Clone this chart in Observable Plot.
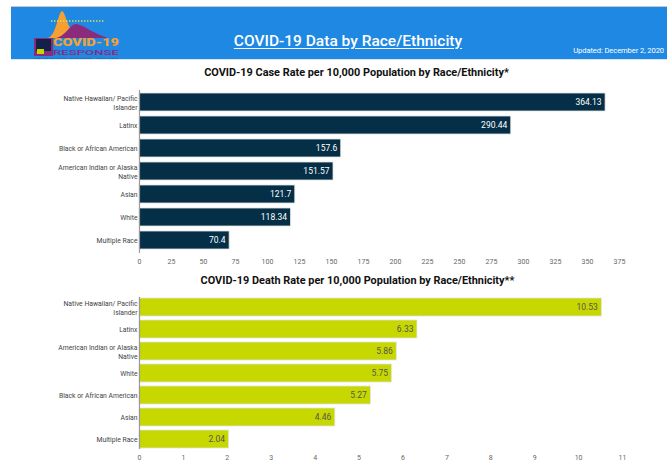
<!DOCTYPE html>
<html>
<head>
<meta charset="utf-8">
<script src="https://cdn.jsdelivr.net/npm/d3@7"></script>
<script src="https://cdn.jsdelivr.net/npm/@observablehq/plot@0.6"></script>
<style>
  html, body { margin: 0; padding: 0; background: #fff; }
  body { width: 667px; height: 462px; position: relative; overflow: hidden; font-family: Roboto, "Noto Sans", sans-serif; }
  #header { position: absolute; left: 11px; top: 6px; width: 656px; height: 54px; background: #1f88e3; border-top: 1px solid #c8c8c8; border-bottom: 1px solid #d9e6f2; box-sizing: border-box; }
  #htitle { position: absolute; left: 0; width: 100%; top: 25px; text-align: center; color: #fff; font-size: 15.5px; font-weight: 500; text-decoration: underline; text-underline-offset: 2px; }
  #htitle span { position: relative; left: 9px; }
  #updated { position: absolute; right: 3px; top: 39px; color: #fff; font-size: 7.6px; letter-spacing: -0.1px; }
  #logo { position: absolute; left: 23px; top: 1px; }
  .ctitle { position: absolute; left: 0; width: 667px; text-align: center; font-weight: 700; font-size: 10.9px; color: #111; }
  .ctitle span { position: relative; }
  .chart { position: absolute; left: 0; }
</style>
</head>
<body>
<div id="header">
  <svg id="logo" width="90" height="52" viewBox="0 0 90 52">
    <path d="M13,30 C22,30 24,4 28,3 C32,4 33,24 46,30 Z" fill="#f6a033"/>
    <path d="M22,30 C32,28 36,16 42,16 C50,17 60,26 74,30 Z" fill="#8a2b7c"/>
    <line x1="17" y1="13" x2="70" y2="13" stroke="#dfe34a" stroke-width="1.4" stroke-dasharray="1.4 1.6"/>
    <rect x="0" y="30" width="19" height="18" fill="#8a2b7c"/>
    <rect x="2" y="31" width="15" height="12" fill="#13204a"/>
    <rect x="3" y="41" width="7" height="5" fill="#c5d800"/>
    <text x="19" y="38" font-family="Roboto, sans-serif" font-weight="900" font-size="10" fill="#f6a033" textLength="66" lengthAdjust="spacingAndGlyphs">COVID-19</text>
    <text x="19" y="47" font-family="Roboto, sans-serif" font-weight="500" font-size="7" fill="#8a2b7c" textLength="66" lengthAdjust="spacingAndGlyphs">RESPONSE</text>
    <text x="0" y="51.2" font-family="Roboto, sans-serif" font-size="2.2" fill="#333" textLength="84">Riverside University Health System · Public Health</text>
  </svg>
  <div id="htitle"><span>COVID-19 Data by Race/Ethnicity</span></div>
  <div id="updated">Updated: December 2, 2020</div>
</div>

<div class="ctitle" style="top:66px"><span style="left:23px">COVID-19 Case Rate per 10,000 Population by Race/Ethnicity*</span></div>
<div id="c1" class="chart" style="top:84px"></div>
<div class="ctitle" style="top:274px"><span style="left:24px">COVID-19 Death Rate per 10,000 Population by Race/Ethnicity**</span></div>
<div id="c2" class="chart" style="top:291px"></div>

<script>
// ---- data ----
const caseGroups = ["Native Hawaiian/ Pacific\nIslander", "Latinx", "Black or African American", "American Indian or Alaska\nNative", "Asian", "White", "Multiple Race"];
const caseRates = [364.13, 290.44, 157.6, 151.57, 121.7, 118.34, 70.4];
const caseTicks = [0, 25, 50, 75, 100, 125, 150, 175, 200, 225, 250, 275, 300, 325, 350, 375];

const deathGroups = ["Native Hawaiian/ Pacific\nIslander", "Latinx", "American Indian or Alaska\nNative", "White", "Black or African American", "Asian", "Multiple Race"];
const deathRates = [10.53, 6.33, 5.86, 5.75, 5.27, 4.46, 2.04];
const deathTicks = [0, 1, 2, 3, 4, 5, 6, 7, 8, 9, 10, 11];

function makeChart(groups, values, ticks, opts) {
  const data = groups.map((g, i) => ({name: g, value: values[i]}));
  return Plot.plot({
    width: 667,
    height: opts.height,
    marginLeft: 139,
    marginRight: opts.marginRight,
    marginTop: 6,
    marginBottom: 20,
    style: {fontFamily: "Roboto, sans-serif", fontSize: "7px", color: "#666", background: "transparent"},
    x: {domain: [0, ticks[ticks.length - 1]], ticks: ticks, tickSize: 0, tickPadding: 6, label: null, tickFormat: d => String(d)},
    y: {domain: groups, axis: null, paddingInner: opts.padding, paddingOuter: 0},
    marks: [
      Plot.barX(data, {x: "value", y: "name", fill: opts.fill, stroke: "#e4e4e4", strokeWidth: 0.8}),
      Plot.ruleX([0], {stroke: "#9a9a9a", strokeWidth: 1.2}),
      Plot.text(data, {x: 0, y: "name", text: "name", textAnchor: "end", dx: -2, fill: "#444", fontSize: 6.8, lineHeight: 1.35}),
      Plot.text(data, {x: "value", y: "name", text: d => String(d.value), textAnchor: "end", dx: -4, fill: opts.labelFill, fontSize: 8.5})
    ]
  });
}

document.getElementById("c1").appendChild(makeChart(caseGroups, caseRates, caseTicks, {height: 189, marginRight: 48, padding: 0.2, fill: "#042f47", labelFill: "#ffffff"}));
document.getElementById("c2").appendChild(makeChart(deathGroups, deathRates, deathTicks, {height: 178, marginRight: 45, padding: 0.18, fill: "#c6d800", labelFill: "#555555"}));
</script>
</body>
</html>
